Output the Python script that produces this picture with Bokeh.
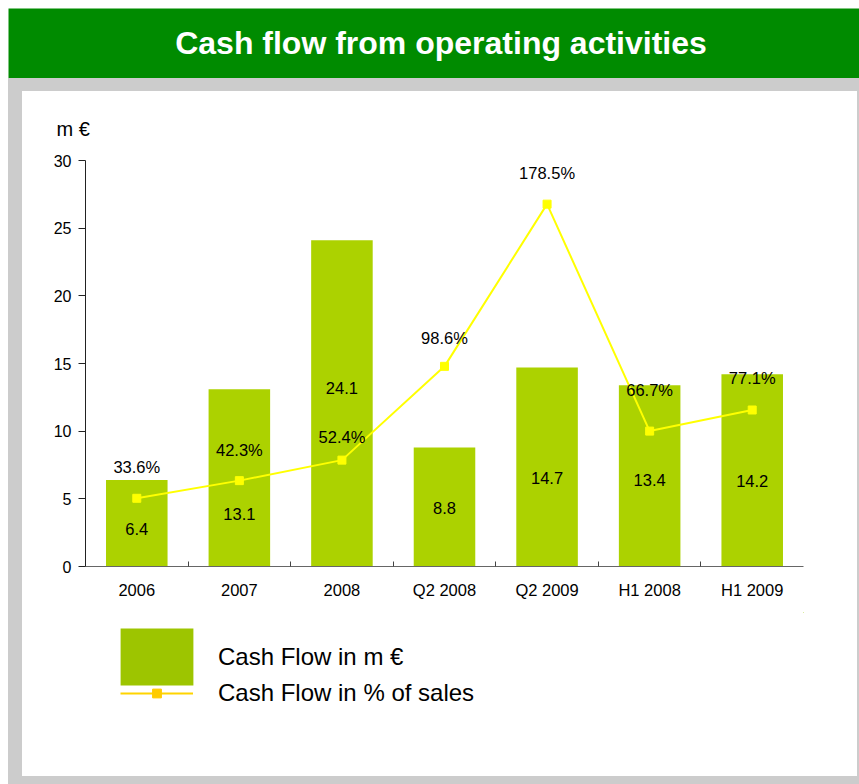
from bokeh.plotting import figure
from bokeh.layouts import column
from bokeh.models import (Range1d, FixedTicker, Label, Legend, LegendItem,
                          ColumnDataSource)
from bokeh.core.properties import value
from bokeh.embed import file_html
from bokeh.resources import INLINE

# ---------------- data ----------------
title_text = "Cash flow from operating activities"
unit_label = "m €"
categories = ["2006", "2007", "2008", "Q2 2008", "Q2 2009", "H1 2008", "H1 2009"]
cash_flow = [6.4, 13.1, 24.1, 8.8, 14.7, 13.4, 14.2]          # m €
pct_of_sales = [33.6, 42.3, 52.4, 98.6, 178.5, 66.7, 77.1]    # % of sales
y_ticks = [0, 5, 10, 15, 20, 25, 30]
legend_labels = ["Cash Flow in m €", "Cash Flow in % of sales"]

# where the data labels sit (in units of the left axis)
bar_label_y = [2.75, 3.9, 13.2, 4.3, 6.55, 6.4, 6.3]
pct_label_y = [7.35, 8.6, 9.6, 16.9, 29.1, 13.05, 13.95]

FONT = "Liberation Sans"
GREEN_HEAD = "#008b00"
GRAY = "#cccccc"
BAR = "#acd200"
LINE = "#ffff00"

n = len(categories)
xs = list(range(1, n + 1))

src = ColumnDataSource(dict(
    x=xs, cash=cash_flow, pct=pct_of_sales,
    cash_txt=[f"{v:.1f}" for v in cash_flow],
    pct_txt=[f"{v:.1f}%" for v in pct_of_sales],
    bar_ly=bar_label_y, pct_ly=pct_label_y,
))

# ---------------- header ----------------
h = figure(width=851, height=70, x_range=Range1d(0, 1), y_range=Range1d(0, 1),
           min_border=0, background_fill_color=GREEN_HEAD, border_fill_color=GREEN_HEAD,
           outline_line_color=None, toolbar_location=None, output_backend="svg",
           x_axis_type=None, y_axis_type=None)
h.grid.visible = False
h.add_layout(Label(x=0.5, y=0.5, text=title_text, text_align="center",
                   text_baseline="middle", text_color="white", text_font_size="32px",
                   text_font_style="bold", text_font=FONT, x_offset=7, y_offset=1))

# ---------------- main chart ----------------
p = figure(width=835, height=521, x_range=Range1d(0.5, n + 0.5), y_range=Range1d(0, 30),
           output_backend="svg", toolbar_location=None,
           min_border_left=63, min_border_right=54, min_border_top=69, min_border_bottom=46,
           outline_line_color=None, background_fill_color="white", border_fill_color="white")
p.extra_y_ranges = {"pct": Range1d(0, 200)}
p.grid.visible = False

p.vbar(x="x", top="cash", width=0.6, source=src, fill_color=BAR, line_color=None)
p.line("x", "pct", source=src, y_range_name="pct", line_color=LINE, line_width=2)
p.scatter("x", "pct", source=src, y_range_name="pct", marker="square", size=8,
          fill_color=LINE, line_color=LINE)
p.text("x", "bar_ly", text="cash_txt", source=src, text_align="center",
       text_baseline="middle", text_font=value(FONT), text_font_size="16.5px",
       text_color="black")
p.text("x", "pct_ly", text="pct_txt", source=src, text_align="center",
       text_baseline="middle", text_font=value(FONT), text_font_size="16.5px",
       text_color="black")

xa = p.xaxis[0]
xa.ticker = FixedTicker(ticks=xs, minor_ticks=[x + 0.5 for x in xs[:-1]])
xa.major_label_overrides = {x: c for x, c in zip(xs, categories)}
xa.major_tick_line_color = None
xa.major_tick_out = 0
xa.major_tick_in = 0
xa.minor_tick_in = 5
xa.minor_tick_out = 0
xa.minor_tick_line_color = "#444444"
xa.axis_line_color = "#666666"
xa.major_label_standoff = 14
xa.major_label_text_font = FONT
xa.major_label_text_font_size = "16.5px"
xa.major_label_text_color = "black"

ya = p.yaxis[0]
ya.ticker = FixedTicker(ticks=y_ticks)
ya.minor_tick_line_color = None
ya.major_tick_out = 7
ya.major_tick_in = 0
ya.major_tick_line_color = "#222222"
ya.axis_line_color = "#222222"
ya.major_label_standoff = 7
ya.major_label_text_font = FONT
ya.major_label_text_font_size = "16px"
ya.major_label_text_color = "black"

p.title.text = unit_label
p.title.align = "left"
p.title.offset = -29
p.title.standoff = 42
p.title.text_font = FONT
p.title.text_font_size = "20px"
p.title.text_font_style = "normal"
p.title.text_color = "black"

# ---------------- legend panel ----------------
# renderers carry the real series but sit outside this panel's view;
# they only serve as legend swatches
lf = figure(width=835, height=164, x_range=Range1d(-2, -1), y_range=Range1d(-2, -1),
            min_border=0, outline_line_color=None, toolbar_location=None,
            output_backend="svg", x_axis_type=None, y_axis_type=None,
            background_fill_color="white", border_fill_color="white")
lf.grid.visible = False
rb = lf.vbar(x="x", top="cash", width=0.6, source=src, fill_color="#9dc500",
             line_color=None)
rl = lf.line("x", "pct", source=src, line_color="#ffd400", line_width=2)
rs = lf.scatter("x", "pct", source=src, marker="square", fill_color="#ffcc00",
                line_color="#ffcc00")

common = dict(padding=0, margin=0, spacing=0, border_line_color=None,
              background_fill_alpha=0, label_text_font=FONT,
              label_text_font_size="24px", label_text_color="black")
leg1 = Legend(items=[LegendItem(label=legend_labels[0], renderers=[rb])],
              location=(26, 84), glyph_width=91, glyph_height=71, label_standoff=16,
              **common)
leg2 = Legend(items=[LegendItem(label=legend_labels[1], renderers=[rl, rs])],
              location=(35, 69), glyph_width=73, glyph_height=22, label_standoff=25,
              **common)
lf.add_layout(leg1)
lf.add_layout(leg2)

p.styles = {"background-color": "white"}
lf.styles = {"background-color": "white"}
p.margin = (13, 2, 0, 14)
lf.margin = (0, 2, 8, 14)
frame_col = column(p, lf, styles={"background-color": GRAY})
layout = column(h, frame_col)
layout.margin = (8, 0, 0, 8)

open("out.html", "w").write(file_html(layout, INLINE))
